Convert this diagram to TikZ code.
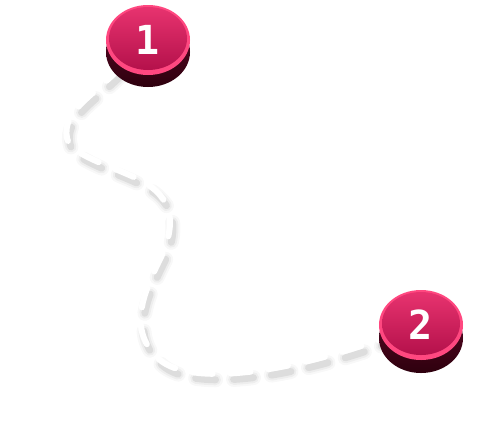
\documentclass[tikz,border=0pt]{standalone}
\usepackage{fontspec}
\usepackage{tikz}
\usetikzlibrary{shapes.geometric,backgrounds}
\newfontfamily\digitfont{DejaVu Sans Mono}
\definecolor{coinhi}{HTML}{E93470}
\definecolor{coinlo}{HTML}{B00E48}
\definecolor{coinrim}{HTML}{FF4880}
\definecolor{coinsidehi}{HTML}{5E0A28}
\definecolor{coinsidelo}{HTML}{2E000E}
\definecolor{trailgrey}{HTML}{8A8A8A}

\begin{document}
\begin{tikzpicture}[
    x=1pt, y=-1pt,
    coin/.style={ellipse, minimum width=84pt, minimum height=70pt, inner sep=0pt, fill=coinrim, text=white,
        font=\digitfont\bfseries\fontsize{40}{40}\selectfont,
        path picture={\fill [top color=coinhi, bottom color=coinlo] ([yshift=1.5pt]path picture bounding box.center) ellipse [x radius=39pt, y radius=31.5pt];}},
    coinside/.style={ellipse, minimum width=84pt, minimum height=70pt, inner sep=0pt, top color=coinsidehi, bottom color=coinsidelo},
    trail/.style={draw=white, line width=6pt, line cap=round, dash pattern=on 20pt off 18pt},
    trailshadow/.style={draw=trailgrey, line cap=round, dash pattern=on 20pt off 18pt, transform canvas={shift={(3,6)}}}
]
    \useasboundingbox (0,0) rectangle (478,445);

    % Nodes
    \node (one side) [coinside] at (148,52) {};
    \node (one) [coin] at (148,40) {1};

    \node (two side) [coinside] at (421,338) {};
    \node (two) [coin] at (421,325) {2};

    % Trail
    \begin{pgfonlayer}{background}
        \foreach \w/\o in {15/0.06, 11/0.09, 7/0.17}
            \draw [trailshadow, line width=\w pt, opacity=\o] (one) .. controls (90,98) and (62,112) .. (67,138)
                .. controls (70,155) and (110,165) .. (140,180)
                .. controls (175,198) and (175,225) .. (162,255)
                .. controls (145,290) and (125,330) .. (160,360)
                .. controls (190,385) and (280,375) .. (two);
        \draw [trail] (one) .. controls (90,98) and (62,112) .. (67,138)
            .. controls (70,155) and (110,165) .. (140,180)
            .. controls (175,198) and (175,225) .. (162,255)
            .. controls (145,290) and (125,330) .. (160,360)
            .. controls (190,385) and (280,375) .. (two);
    \end{pgfonlayer}
\end{tikzpicture}
\end{document}
